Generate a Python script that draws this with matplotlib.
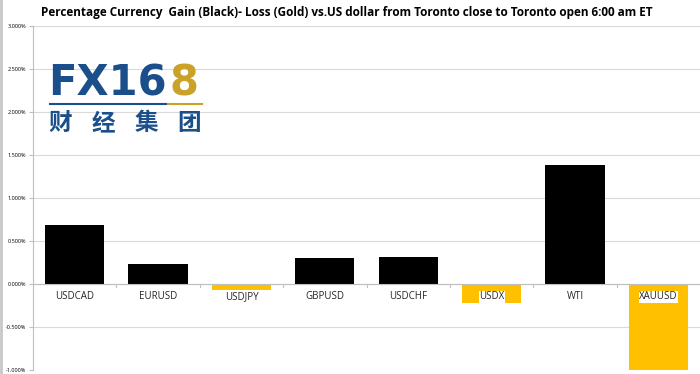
import numpy as np
import matplotlib.pyplot as plt
from matplotlib.ticker import FuncFormatter

pairs = ['USDCAD', 'EURUSD', 'USDJPY', 'GBPUSD', 'USDCHF', 'USDX', 'WTI', 'XAUUSD']
changes = [0.686, 0.235, -0.07, 0.30, 0.31, -0.22, 1.38, -1.05]
yticks = [-1.0, -0.5, 0.0, 0.5, 1.0, 1.5, 2.0, 2.5, 3.0]

GOLD = '#ffc000'
BLUE = '#1b4f8c'

fig = plt.figure(figsize=(7, 3.74), dpi=100)
ax = fig.add_axes([33 / 700, 4 / 374, 667 / 700, 344 / 374])

x = np.arange(len(pairs))
colors = ['black' if v >= 0 else GOLD for v in changes]
ax.bar(x, changes, width=0.71, color=colors, zorder=2)

ax.set_xlim(-0.5, len(pairs) - 0.5)
ax.set_ylim(-1.0, 3.0)
ax.set_yticks(yticks)
ax.yaxis.set_major_formatter(FuncFormatter(lambda v, p: '%.3f%%' % v))
ax.tick_params(axis='y', labelsize=4, length=3, color='#bfbfbf', pad=2)
for lab in ax.get_yticklabels():
    lab.set_family('Open Sans')
ax.grid(axis='y', color='#d9d9d9', linewidth=0.8, zorder=0)
ax.set_axisbelow(True)

for s in ['top', 'right', 'bottom']:
    ax.spines[s].set_visible(False)
ax.spines['left'].set_color('#bfbfbf')
ax.axhline(0, color='#bfbfbf', linewidth=0.8, zorder=3)

# boundary tick marks under the zero line
ax.set_xticks([])
for b in np.arange(0.5, len(pairs) - 0.5, 1.0):
    ax.plot([b, b], [0, -0.04], color='#bfbfbf', linewidth=0.8, zorder=3)

for i, name in enumerate(pairs):
    ax.text(i, -0.15, name, ha='center', va='center', fontsize=7,
            family='Open Sans', color='#262626', zorder=4,
            bbox=dict(facecolor='white', edgecolor='none', pad=0.3)
            if changes[i] < -0.12 else None)

fig.text(0.495, 0.966, 'Percentage Currency  Gain (Black)- Loss (Gold) vs.US dollar from Toronto close to Toronto open 6:00 am ET',
         ha='center', va='center', fontsize=8.5, fontweight='bold', family='Open Sans')

# left border line
fig.add_artist(plt.Line2D([0.002, 0.002], [0, 1], color='#c8c8c8', linewidth=2))

# logo
fig.text(48 / 700, 1 - 83 / 374, 'FX16', fontsize=30, fontweight='bold', color=BLUE,
         family='DejaVu Sans', ha='left', va='center')
fig.text(169 / 700, 1 - 83 / 374, '8', fontsize=30, fontweight='bold', color='#c9a227',
         family='DejaVu Sans', ha='left', va='center')
fig.add_artist(plt.Line2D([50 / 700, 168 / 700], [1 - 104 / 374] * 2, color=BLUE, linewidth=1.5))
fig.add_artist(plt.Line2D([168 / 700, 202 / 700], [1 - 104 / 374] * 2, color='#c9a227', linewidth=1.5))
for k, ch in enumerate('财经集团'):
    fig.text((60 + k * 43) / 700, 1 - 123 / 374, ch, fontsize=17, color=BLUE,
             fontweight='bold', family='Noto Sans CJK SC', ha='center', va='center')

fig.savefig('out.png', dpi=100)
